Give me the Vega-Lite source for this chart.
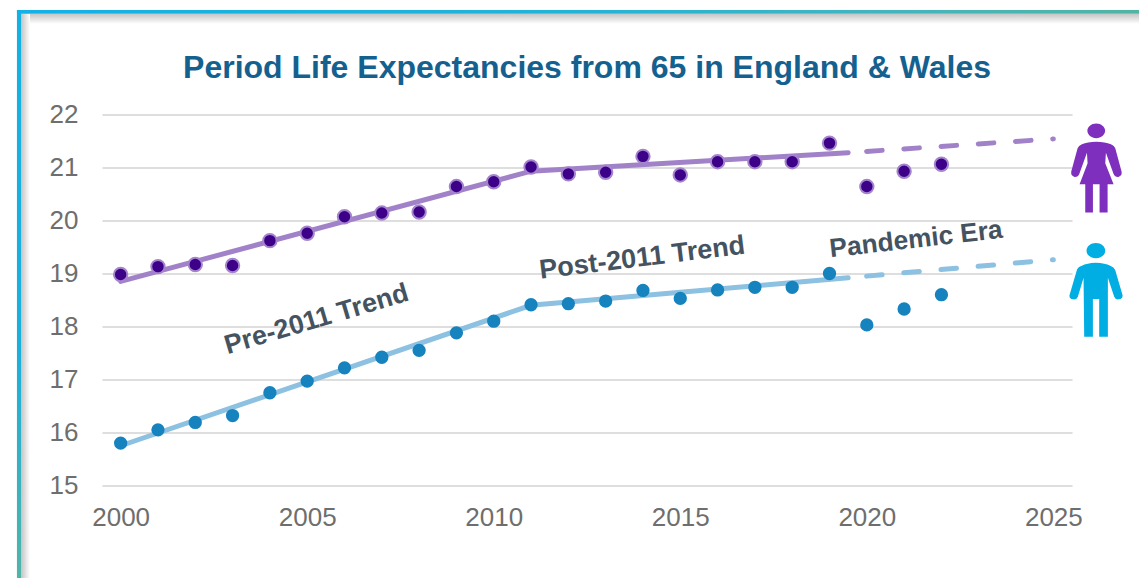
{"$schema":"https://vega.github.io/schema/vega-lite/v6.json","width":970,"height":371,"autosize":{"type":"none"},"padding":{"left":102,"top":114.5,"right":67,"bottom":92.5},"background":"white","view":{"stroke":null},
"title":{"text":"Period Life Expectancies from 65 in England & Wales","font":"Liberation Sans","fontSize":32,"fontWeight":"bold","color":"#14618F","anchor":"middle","offset":-75},
"datasets":{
"obs":[{"year":2000,"f":18.98,"m":15.8},{"year":2001,"f":19.13,"m":16.05},{"year":2002,"f":19.17,"m":16.19},{"year":2003,"f":19.15,"m":16.32},{"year":2004,"f":19.62,"m":16.75},{"year":2005,"f":19.76,"m":16.97},{"year":2006,"f":20.07,"m":17.22},{"year":2007,"f":20.14,"m":17.42},{"year":2008,"f":20.16,"m":17.55},{"year":2009,"f":20.64,"m":17.88},{"year":2010,"f":20.73,"m":18.1},{"year":2011,"f":21.01,"m":18.41},{"year":2012,"f":20.88,"m":18.43},{"year":2013,"f":20.91,"m":18.48},{"year":2014,"f":21.21,"m":18.68},{"year":2015,"f":20.86,"m":18.53},{"year":2016,"f":21.11,"m":18.69},{"year":2017,"f":21.11,"m":18.74},{"year":2018,"f":21.11,"m":18.74},{"year":2019,"f":21.46,"m":19.0},{"year":2020,"f":20.64,"m":18.03},{"year":2021,"f":20.93,"m":18.33},{"year":2022,"f":21.06,"m":18.6}],
"trend":[{"year":2000,"f":18.85,"m":15.75},{"year":2011,"f":20.93,"m":18.4},{"year":2019.5,"f":21.28,"m":18.92}],
"proj":[{"year":2019.5,"f":21.28,"m":18.92},{"year":2025,"f":21.54,"m":19.26}],
"frameTop":[{"a":1997.22,"b":2027.3,"c":23.97,"d":23.9}],
"frameLeft":[{"a":1997.22,"b":1997.33,"c":23.97,"d":13.25}],
"shadeTop":[{"a":1997.33,"b":2027.3,"c":23.9,"d":23.71}],
"shadeLeft":[{"a":1997.33,"b":1997.57,"c":23.9,"d":13.25}]
},
"layer":[
{"data":{"name":"shadeTop"},"mark":{"type":"rect","color":{"gradient":"linear","x1":0,"y1":0,"x2":0,"y2":1,"stops":[{"offset":0,"color":"#c4c4c4"},{"offset":1,"color":"#ffffff"}]}},"encoding":{"x":{"field":"a","type":"quantitative","scale":{"domain":[1999.5,2025.5],"nice":false,"zero":false},"axis":{"values":[2000,2005,2010,2015,2020,2025],"format":"d","title":null,"grid":false,"ticks":false,"domain":false,"labelFont":"Liberation Sans","labelFontSize":26,"labelColor":"#6E6E6E","labelPadding":19}},"x2":{"field":"b"},"y":{"field":"c","type":"quantitative","scale":{"domain":[15,22],"nice":false,"zero":false},"axis":{"values":[15,16,17,18,19,20,21,22],"format":"d","title":null,"grid":true,"gridColor":"#DEDEDE","gridWidth":2,"ticks":false,"domain":false,"labelFont":"Liberation Sans","labelFontSize":26,"labelColor":"#6E6E6E","labelPadding":24}},"y2":{"field":"d"}}},
{"data":{"name":"shadeLeft"},"mark":{"type":"rect","color":{"gradient":"linear","x1":0,"y1":0,"x2":1,"y2":0,"stops":[{"offset":0,"color":"#c4c4c4"},{"offset":1,"color":"#ffffff"}]}},"encoding":{"x":{"field":"a","type":"quantitative"},"x2":{"field":"b"},"y":{"field":"c","type":"quantitative"},"y2":{"field":"d"}}},
{"data":{"name":"frameTop"},"mark":{"type":"rect","color":{"gradient":"linear","x1":0,"y1":0,"x2":1,"y2":0,"stops":[{"offset":0,"color":"#12B2E6"},{"offset":0.5,"color":"#22B3D8"},{"offset":0.8,"color":"#45B5BC"},{"offset":1,"color":"#50B5A5"}]}},"encoding":{"x":{"field":"a","type":"quantitative"},"x2":{"field":"b"},"y":{"field":"c","type":"quantitative"},"y2":{"field":"d"}}},
{"data":{"name":"frameLeft"},"mark":{"type":"rect","color":{"gradient":"linear","x1":0,"y1":0,"x2":0,"y2":1,"stops":[{"offset":0,"color":"#12B2E6"},{"offset":0.6,"color":"#1AB0DC"},{"offset":1,"color":"#4FB5A8"}]}},"encoding":{"x":{"field":"a","type":"quantitative"},"x2":{"field":"b"},"y":{"field":"c","type":"quantitative"},"y2":{"field":"d"}}},
{"data":{"name":"trend"},"mark":{"type":"line","color":"#A182C9","strokeWidth":5,"strokeCap":"round"},"encoding":{"x":{"field":"year","type":"quantitative"},"y":{"field":"f","type":"quantitative"}}},
{"data":{"name":"trend"},"mark":{"type":"line","color":"#8CC1E1","strokeWidth":5,"strokeCap":"round"},"encoding":{"x":{"field":"year","type":"quantitative"},"y":{"field":"m","type":"quantitative"}}},
{"data":{"name":"proj"},"mark":{"type":"line","color":"#A182C9","strokeWidth":5,"strokeCap":"round","strokeDash":[15.6,21.7],"strokeDashOffset":-18.5},"encoding":{"x":{"field":"year","type":"quantitative"},"y":{"field":"f","type":"quantitative"}}},
{"data":{"name":"proj"},"mark":{"type":"line","color":"#8CC1E1","strokeWidth":5,"strokeCap":"round","strokeDash":[15.6,21.7],"strokeDashOffset":-18.5},"encoding":{"x":{"field":"year","type":"quantitative"},"y":{"field":"m","type":"quantitative"}}},
{"data":{"name":"obs"},"mark":{"type":"point","filled":true,"opacity":1,"size":180,"fill":"#3D0088","stroke":"#A484CC","strokeWidth":2},"encoding":{"x":{"field":"year","type":"quantitative"},"y":{"field":"f","type":"quantitative"}}},
{"data":{"name":"obs"},"mark":{"type":"point","filled":true,"opacity":1,"size":177,"color":"#1682BE"},"encoding":{"x":{"field":"year","type":"quantitative"},"y":{"field":"m","type":"quantitative"}}},
{"data":{"values":[{"year":2005.25,"value":18.13,"label":"Pre-2011 Trend"}]},"mark":{"type":"text","font":"Liberation Sans","fontWeight":"bold","fontSize":26.8,"color":"#44535F","angle":343.5},"encoding":{"x":{"field":"year","type":"quantitative"},"y":{"field":"value","type":"quantitative"},"text":{"field":"label"}}},
{"data":{"values":[{"year":2013.98,"value":19.29,"label":"Post-2011 Trend"}]},"mark":{"type":"text","font":"Liberation Sans","fontWeight":"bold","fontSize":27,"color":"#44535F","angle":353},"encoding":{"x":{"field":"year","type":"quantitative"},"y":{"field":"value","type":"quantitative"},"text":{"field":"label"}}},
{"data":{"values":[{"year":2021.32,"value":19.64,"label":"Pandemic Era"}]},"mark":{"type":"text","font":"Liberation Sans","fontWeight":"bold","fontSize":26.3,"color":"#44535F","angle":353.5},"encoding":{"x":{"field":"year","type":"quantitative"},"y":{"field":"value","type":"quantitative"},"text":{"field":"label"}}},
{"data":{"values":[{"year":2026.15,"value":20.985}]},"mark":{"type":"point","filled":true,"opacity":1,"clip":false,"size":7860,"color":"#7F2FBE","strokeWidth":0,"shape":"M-0.2,-0.845 A0.2,0.165 0 1 1 0.2,-0.845 A0.2,0.165 0 1 1 -0.2,-0.845 Z M0,-0.6 Q-0.2,-0.6 -0.323,-0.541 Q-0.4,-0.51 -0.421,-0.451 L-0.564,0.075 Q-0.58,0.17 -0.49,0.195 Q-0.41,0.2 -0.383,0.128 L-0.21,-0.353 L-0.195,-0.113 L-0.376,0.361 L-0.248,0.361 L-0.248,1 L-0.075,1 L-0.075,0.361 L0.075,0.361 L0.075,1 L0.256,1 L0.256,0.361 L0.391,0.361 L0.203,-0.113 L0.218,-0.353 L0.391,0.128 Q0.42,0.2 0.5,0.195 Q0.59,0.17 0.571,0.075 L0.429,-0.451 Q0.41,-0.51 0.331,-0.541 Q0.2,-0.6 0,-0.6 Z"},"encoding":{"x":{"field":"year","type":"quantitative"},"y":{"field":"value","type":"quantitative"}}},
{"data":{"values":[{"year":2026.14,"value":18.689}]},"mark":{"type":"point","filled":true,"opacity":1,"clip":false,"size":8711,"color":"#00AEE3","strokeWidth":0,"shape":"M-0.2,-0.843 A0.2,0.164 0 1 1 0.2,-0.843 A0.2,0.164 0 1 1 -0.2,-0.843 Z M0,-0.586 Q-0.2,-0.58 -0.3,-0.521 Q-0.39,-0.49 -0.407,-0.429 L-0.564,0.107 Q-0.58,0.19 -0.49,0.2 Q-0.41,0.21 -0.386,0.143 L-0.264,-0.264 L-0.25,1 L-0.064,1 L-0.064,0.193 L0.071,0.193 L0.071,1 L0.257,1 L0.257,-0.264 L0.393,0.143 Q0.42,0.21 0.49,0.2 Q0.58,0.19 0.571,0.107 L0.414,-0.429 Q0.39,-0.49 0.307,-0.521 Q0.2,-0.58 0,-0.586 Z"},"encoding":{"x":{"field":"year","type":"quantitative"},"y":{"field":"value","type":"quantitative"}}}
]}
